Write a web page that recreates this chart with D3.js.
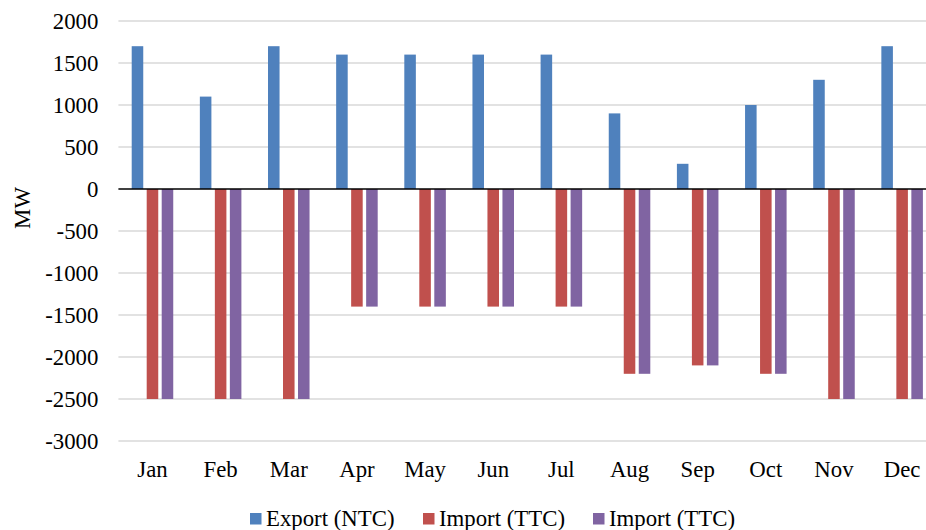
<!DOCTYPE html>
<html>
<head>
<meta charset="utf-8">
<script src="https://cdn.jsdelivr.net/npm/d3@7"></script>
<style>
  body { margin: 0; background: #fff; overflow: hidden; }
</style>
</head>
<body>
<div id="chart"></div>
<script>
const months = ["Jan", "Feb", "Mar", "Apr", "May", "Jun", "Jul", "Aug", "Sep", "Oct", "Nov", "Dec"];
const exportNTC = [1700, 1100, 1700, 1600, 1600, 1600, 1600, 900, 300, 1000, 1300, 1700];
const importTTC1 = [-2500, -2500, -2500, -1400, -1400, -1400, -1400, -2200, -2100, -2200, -2500, -2500];
const importTTC2 = [-2500, -2500, -2500, -1400, -1400, -1400, -1400, -2200, -2100, -2200, -2500, -2500];
const yTicks = [2000, 1500, 1000, 500, 0, -500, -1000, -1500, -2000, -2500, -3000];

const seriesNames = ["Export (NTC)", "Import (TTC)", "Import (TTC)"];
const seriesColors = ["#4F81BD", "#C0504D", "#8064A2"];
const series = [exportNTC, importTTC1, importTTC2];

const FONT = "\"Liberation Serif\"";
const FS = "22.8px";

const W = 926, H = 530;
// plot area runs past the right edge of the picture (cropped like the original)
const margin = {top: 21, bottom: 89, left: 118.4};
const plotRight = 936.2;

const svg = d3.select("#chart").append("svg")
    .attr("width", W)
    .attr("height", H);

const x = d3.scaleBand()
    .domain(months)
    .range([margin.left, plotRight]);

const y = d3.scaleLinear()
    .domain([-3000, 2000])
    .range([H - margin.bottom, margin.top]);

// sub-band for the three series inside each month
const inner = d3.scaleBand()
    .domain(d3.range(series.length))
    .range([0, x.bandwidth()])
    .paddingInner(0.23)
    .paddingOuter(0.887);

// gridlines
svg.append("g")
    .selectAll("line")
    .data(yTicks.filter(d => d !== 0))
    .join("line")
    .attr("x1", margin.left)
    .attr("x2", W)
    .attr("y1", d => y(d))
    .attr("y2", d => y(d))
    .attr("stroke", "#d9d9d9")
    .attr("stroke-width", 1.3);

// y axis labels
const yAxis = d3.axisLeft(y).tickValues(yTicks).tickFormat(d => String(d)).tickSize(0).tickPadding(20);
svg.append("g")
    .attr("transform", `translate(${margin.left},0)`)
    .call(yAxis)
    .call(g => g.select(".domain").remove())
    .selectAll("text")
    .style("font-family", FONT)
    .style("font-size", FS)
    .attr("fill", "#000");

// bars
series.forEach((vals, si) => {
    svg.append("g")
        .selectAll("rect")
        .data(vals)
        .join("rect")
        .attr("x", (d, i) => x(months[i]) + inner(si))
        .attr("y", d => y(Math.max(0, d)))
        .attr("width", inner.bandwidth())
        .attr("height", d => Math.abs(y(d) - y(0)))
        .attr("fill", seriesColors[si]);
});

// zero line
svg.append("line")
    .attr("x1", margin.left)
    .attr("x2", W)
    .attr("y1", y(0))
    .attr("y2", y(0))
    .attr("stroke", "#000")
    .attr("stroke-width", 1.5);

// month labels
const xAxis = d3.axisBottom(x).tickSize(0).tickPadding(0);
svg.append("g")
    .attr("transform", `translate(0,${H - margin.bottom + 20})`)
    .call(xAxis)
    .call(g => g.select(".domain").remove())
    .selectAll("text")
    .style("font-family", FONT)
    .style("font-size", FS)
    .attr("fill", "#000");

// y axis title
svg.append("text")
    .attr("transform", "translate(30,208) rotate(-90)")
    .attr("text-anchor", "middle")
    .style("font-family", FONT)
    .style("font-size", FS)
    .text("MW");

// legend
const legendX = [250, 423, 593];
const legend = svg.append("g").attr("transform", `translate(0,${H - 11})`);
seriesNames.forEach((name, i) => {
    legend.append("rect")
        .attr("x", legendX[i])
        .attr("y", -6)
        .attr("width", 11.5)
        .attr("height", 11.5)
        .attr("fill", seriesColors[i]);
    legend.append("text")
        .attr("x", legendX[i] + 16)
        .attr("y", 7)
        .style("font-family", FONT)
        .style("font-size", FS)
        .text(name);
});
</script>
</body>
</html>
